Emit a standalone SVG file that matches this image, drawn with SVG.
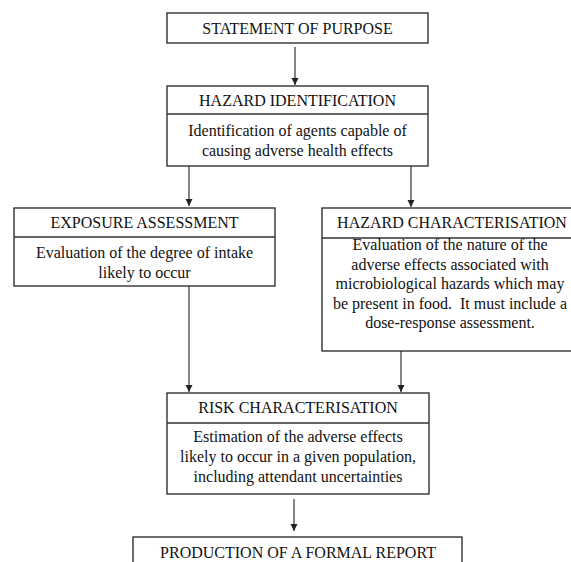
<svg xmlns="http://www.w3.org/2000/svg" width="571" height="562" viewBox="0 0 571 562">
<defs>
<style>
.box{fill:#fff;stroke:#222;stroke-width:1.3}
.div{stroke:#333;stroke-width:1.3}
.t{font-family:"Liberation Serif","Times New Roman",serif;font-size:16px;fill:#111;text-anchor:middle}
.c{stroke:#222;stroke-width:1.1;fill:none;marker-end:url(#ah)}
</style>
<marker id="ah" markerWidth="7" markerHeight="9" refX="7" refY="3.5" orient="auto" markerUnits="userSpaceOnUse">
<path d="M0,0 L7,3.5 L0,7 Z" fill="#222"/>
</marker>
</defs>
<rect width="571" height="562" fill="#fff"/>
<g id="connectors">
<line class="c" x1="295" y1="47" x2="295" y2="85"/>
<line class="c" x1="189" y1="166" x2="189" y2="206"/>
<line class="c" x1="411" y1="166" x2="411" y2="207"/>
<line class="c" x1="189" y1="286" x2="189" y2="392"/>
<line class="c" x1="401" y1="351" x2="401" y2="392"/>
<line class="c" x1="294" y1="499" x2="294" y2="531"/>
</g>
<g id="statement">
<rect class="box" x="167" y="13" width="261" height="30"/>
<text class="t" x="297.5" y="33.5">STATEMENT OF PURPOSE</text>
</g>
<g id="hazard-identification">
<rect class="box" x="167" y="86" width="261" height="80"/>
<line class="div" x1="167" y1="114" x2="428" y2="114"/>
<text class="t" x="297.5" y="106">HAZARD IDENTIFICATION</text>
<text class="t" x="297.5" y="136">Identification of agents capable of</text>
<text class="t" x="297.5" y="156">causing adverse health effects</text>
</g>
<g id="exposure-assessment">
<rect class="box" x="14" y="208" width="261" height="78"/>
<line class="div" x1="14" y1="237" x2="275" y2="237"/>
<text class="t" x="144.5" y="228">EXPOSURE ASSESSMENT</text>
<text class="t" x="144.5" y="258">Evaluation of the degree of intake</text>
<text class="t" x="144.5" y="278">likely to occur</text>
</g>
<g id="hazard-characterisation">
<rect class="box" x="322" y="208" width="258" height="143"/>
<line class="div" x1="322" y1="238" x2="580" y2="238"/>
<text class="t" x="452" y="228">HAZARD CHARACTERISATION</text>
<text class="t" x="450" y="250">Evaluation of the nature of the</text>
<text class="t" x="450" y="269.5">adverse effects associated with</text>
<text class="t" x="450" y="289">microbiological hazards which may</text>
<text class="t" x="450" y="308.5">be present in food.&#160; It must include a</text>
<text class="t" x="450" y="328">dose-response assessment.</text>
</g>
<g id="risk-characterisation">
<rect class="box" x="167" y="393" width="262" height="101"/>
<line class="div" x1="167" y1="423" x2="429" y2="423"/>
<text class="t" x="298" y="413">RISK CHARACTERISATION</text>
<text class="t" x="298" y="442">Estimation of the adverse effects</text>
<text class="t" x="298" y="462">likely to occur in a given population,</text>
<text class="t" x="298" y="482">including attendant uncertainties</text>
</g>
<g id="formal-report">
<rect class="box" x="133" y="537" width="329" height="40"/>
<text class="t" x="298" y="558">PRODUCTION OF A FORMAL REPORT</text>
</g>
</svg>
